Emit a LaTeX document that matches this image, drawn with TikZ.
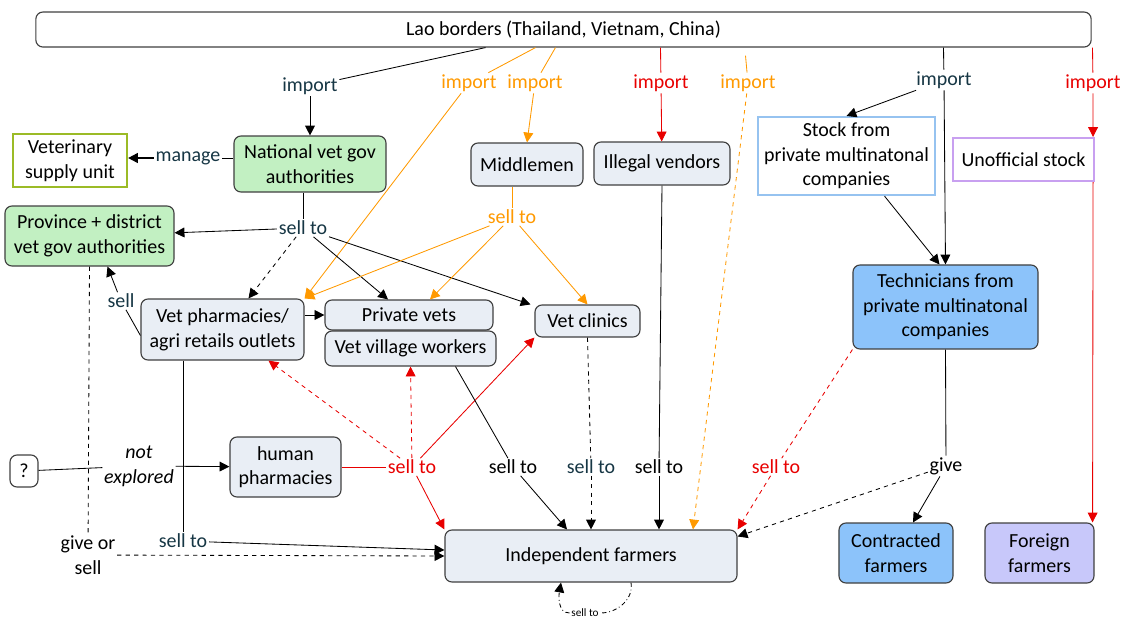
\documentclass[tikz,border=0pt]{standalone}
\usepackage{fontspec}
\setmainfont{Carlito}
\usetikzlibrary{arrows.meta}
\definecolor{orangeline}{RGB}{255,153,0}
\definecolor{redline}{RGB}{232,0,0}
\definecolor{tealtext}{RGB}{22,54,68}
\definecolor{greenfill}{RGB}{194,240,194}
\definecolor{greyfill}{RGB}{233,238,245}
\definecolor{bluefill}{RGB}{140,195,250}
\definecolor{lilacfill}{RGB}{200,200,250}
\definecolor{olivedraw}{RGB}{155,187,38}
\definecolor{skydraw}{RGB}{150,195,240}
\definecolor{lilacdraw}{RGB}{200,160,240}
\tikzset{
  box/.style={draw=black!75,line width=0.8pt,rounded corners=5pt,align=center,inner sep=0pt},
  sqbox/.style={line width=1.5pt,align=center,inner sep=0pt},
  sz/.style 2 args={minimum width=#1cm,minimum height=#2cm},
  lbl/.style={inner sep=1pt,align=center},
  arr/.style={-{Triangle[length=7pt,width=7pt]}},
}
\begin{document}
\begin{tikzpicture}[x=0.025cm,y=-0.025cm,line width=0.6pt,font=\fontsize{14.2}{17.5}\selectfont]
\useasboundingbox (0,0) rectangle (1121,621);
\node[box,fill=white,sz={26.375}{0.875}] (borders) at (563.5,29.5) {Lao borders (Thailand, Vietnam, China)};
\node[sqbox,draw=olivedraw,sz={2.85}{1.325}] (vsu) at (70,160.5) {Veterinary\\supply unit};
\node[box,fill=greenfill,sz={3.8}{1.4}] (natgov) at (310,164) {National vet gov\\authorities};
\node[box,fill=greyfill,sz={2.8}{1.075}] (middlemen) at (527,164.5) {Middlemen};
\node[box,fill=greyfill,sz={3.4}{1.075}] (illegal) at (662,163.5) {Illegal vendors};
\node[sqbox,draw=skydraw,sz={4.425}{1.95}] (stock) at (846.5,156) {Stock from\\private multinatonal\\companies};
\node[sqbox,draw=lilacdraw,sz={3.525}{1.075}] (unofficial) at (1023.5,159.5) {Unofficial stock};
\node[box,fill=greenfill,sz={4.225}{1.5}] (prov) at (89.5,236) {Province + district\\vet gov authorities};
\node[box,fill=greyfill,sz={4.075}{1.525}] (pharm) at (222.5,329.5) {Vet pharmacies/\\agri retails outlets};
\node[box,fill=greyfill,sz={4.2}{0.75}] (privvets) at (409,315) {Private vets};
\node[box,fill=greyfill,sz={4.275}{0.875}] (vvw) at (410.5,348.5) {Vet village workers};
\node[box,fill=greyfill,sz={2.625}{0.8}] (clinics) at (587.5,321) {Vet clinics};
\node[box,fill=bluefill,sz={4.625}{2.1}] (tech) at (945.5,307) {Technicians from\\private multinatonal\\companies};
\node[box,sz={0.7}{0.8}] (unknown) at (24,471) {?};
\node[box,fill=greyfill,sz={2.775}{1.5}] (human) at (285.5,467) {human\\pharmacies};
\node[box,fill=greyfill,sz={7.3}{1.3}] (indep) at (591,556) {Independent farmers};
\node[box,fill=bluefill,sz={2.85}{1.5}] (contracted) at (896,553) {Contracted\\farmers};
\node[box,fill=lilacfill,sz={2.725}{1.5}] (foreign) at (1039.5,553) {Foreign\\farmers};
\node[lbl,text=tealtext] (imp1) at (310,86) {import};
\node[lbl,text=orangeline] (imp2) at (469,83) {import};
\node[lbl,text=orangeline] (imp3) at (535,83) {import};
\node[lbl,text=redline] (imp4) at (661,83) {import};
\node[lbl,text=orangeline] (imp5) at (748,83) {import};
\node[lbl,text=tealtext] (imp6) at (944,80) {import};
\node[lbl,text=redline] (imp7) at (1093,83) {import};
\node[lbl,text=tealtext] (manage) at (188,158) {manage};
\node[lbl,text=tealtext] (sellnat) at (303,228) {sell to};
\node[lbl,text=orangeline] (sellmid) at (512,217) {sell to};
\node[lbl,text=tealtext] (sellph) at (121,301) {sell};
\node[lbl,font=\fontsize{14.2}{17.5}\selectfont\itshape] (notexp) at (139,466) {not\\explored};
\node[lbl,text=redline] (sellhum) at (412,467) {sell to};
\node[lbl] (sellvvw) at (513,467) {sell to};
\node[lbl,text=tealtext] (sellcli) at (591,467) {sell to};
\node[lbl] (sellill) at (659,467) {sell to};
\node[lbl,text=redline] (selltech) at (776,467) {sell to};
\node[lbl] (give) at (946,466) {give};
\node[lbl] (givesell) at (88,555) {give or\\sell};
\node[lbl,text=tealtext] (sellpharm) at (183,541) {sell to};
\node[lbl,font=\fontsize{8}{9}\selectfont] (sellself) at (585,613) {sell to};
\draw ([shift={(-78,0)}]borders.south) -- (imp1);
\draw[arr] (imp1) -- (natgov);
\draw[orangeline] ([shift={(-28,0)}]borders.south) -- (imp2);
\draw[orangeline,arr] (imp2) -- (pharm.north east);
\draw[orangeline] ([shift={(-8,0)}]borders.south) -- (imp3);
\draw[orangeline,arr] (imp3) -- (middlemen.north);
\draw[redline] ([shift={(97,0)}]borders.south) -- (imp4);
\draw[redline,arr] (imp4) -- (illegal);
\draw[orangeline] ([shift={(182,8)}]borders.south) -- (imp5);
\draw[orangeline,dashed,arr] (imp5) -- ([shift={(102,0)}]indep.north);
\draw ([shift={(380,0)}]borders.south) -- (imp6);
\draw[arr] (imp6) -- (stock.north);
\draw[arr] (imp6) -- (tech.north);
\draw[redline] ([shift={(529,0)}]borders.south) -- (imp7);
\draw[redline,arr] (imp7) -- ([shift={(-2,0)}]unofficial.north east);
\draw[redline,arr] ([shift={(-2,0)}]unofficial.south east) -- ([shift={(-2,0)}]foreign.north east);
\draw[arr] ([shift={(38,0)}]stock.south) -- ([shift={(-6,0)}]tech.north);
\draw (natgov.west |- manage) -- (manage);
\draw[line width=1.3pt,arr] (manage) -- (manage -| vsu.east);
\draw (sellnat |- natgov.south) -- (sellnat);
\draw[arr] (sellnat) -- (prov);
\draw[dashed,arr] (sellnat) -- ([shift={(26,0)}]pharm.north);
\draw[arr] (sellnat) -- ([shift={(-21,0)}]privvets.north);
\draw[arr] (sellnat) -- ([shift={(-57,0)}]clinics.north);
\draw[orangeline] (sellmid |- middlemen.south) -- (sellmid);
\draw[orangeline,arr] (sellmid) -- (pharm.north east);
\draw[orangeline,arr] (sellmid) -- ([shift={(21,0)}]privvets.north);
\draw[orangeline,arr] (sellmid) -- (clinics.north);
\draw ([shift={(0,6)}]pharm.west) -- (sellph);
\draw[arr] (sellph) -- ([shift={(18,0)}]prov.south);
\draw[arr] (pharm.east |- privvets.west) -- (privvets.west);
\draw[redline] (human.east) -- (sellhum);
\draw[redline,dashed,arr] (sellhum) -- ([shift={(46,0)}]pharm.south);
\draw[redline,dashed,arr] (sellhum) -- (vvw.south);
\draw[redline,arr] (sellhum) -- (clinics.south west);
\draw[redline,arr] (sellhum) -- (indep.north west);
\draw (unknown) -- (notexp);
\draw[arr] (notexp) -- (human);
\draw ([shift={(45,0)}]vvw.south) -- (sellvvw);
\draw[arr] (sellvvw) -- ([shift={(-24,0)}]indep.north);
\draw[dashed] (clinics.south) -- (sellcli);
\draw[dashed,arr] (sellcli) -- (indep.north);
\draw (illegal.south) -- (sellill);
\draw[arr] (sellill) -- ([shift={(68,0)}]indep.north);
\draw[redline,dashed] (tech.south west) -- (selltech);
\draw[redline,dashed,arr] (selltech) -- (indep.north east);
\draw (tech.south) -- (give);
\draw[arr] (give) -- ([shift={(17,0)}]contracted.north);
\draw[dashed,arr] (give) -- ([shift={(0,7)}]indep.north east);
\draw[dashed] (prov.south) -- (givesell);
\draw[dashed,arr] (givesell) -- (indep.west);
\draw (sellpharm |- pharm.south) -- (sellpharm);
\draw[arr] (sellpharm) -- ([shift={(0,-6)}]indep.west);
\draw[dashdotted] ([shift={(40,0)}]indep.south) to[out=-80,in=0] (sellself);
\draw[dashdotted,arr] (sellself) to[out=180,in=-100] ([shift={(-30,0)}]indep.south);
\end{tikzpicture}
\end{document}
